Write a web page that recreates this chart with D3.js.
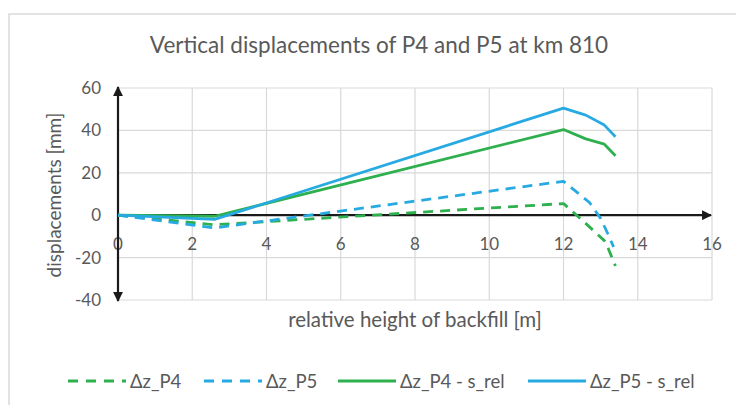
<!DOCTYPE html>
<html>
<head>
<meta charset="utf-8">
<script src="https://cdn.jsdelivr.net/npm/d3@7"></script>
<style>
  body { margin: 0; background: #fff; }
  text { font-family: Lato, "Open Sans", sans-serif; fill: #595959; }
</style>
</head>
<body>
<svg id="chart" width="736" height="405"></svg>
<script>
// series
var xP4 = [0, 2.6, 12, 12.7, 13.1, 13.2, 13.4];
var dzP4 = [0, -4.5, 5.5, -5.5, -12, -15.5, -24];
var xP5 = [0, 2.6, 12, 12.7, 13.0, 13.2, 13.35];
var dzP5 = [0, -6, 16, 6, -1.5, -9, -15];
var xRel = [0, 2.6, 12, 12.6, 13.1, 13.4];
var p4Rel = [0, -0.5, 40.4, 36, 33.5, 28];
var p5Rel = [0, -2, 50.5, 47.2, 42.5, 37];
var xTicks = [0, 2, 4, 6, 8, 10, 12, 14, 16];
var yTicks = [-40, -20, 0, 20, 40, 60];

var green = "#2eb04e", blue = "#27aae1";

var svg = d3.select("#chart");

// outer frame
svg.append("path")
  .attr("d", "M9,405 L9,14 L736,14")
  .attr("fill", "none").attr("stroke", "#d9d9d9").attr("stroke-width", 1.5);

var x = d3.scaleLinear().domain([0, 16]).range([118, 712]);
var y = d3.scaleLinear().domain([-40, 60]).range([300, 88]);

// grid
svg.append("g").selectAll("line").data(xTicks).enter().append("line")
  .attr("x1", function(d) { return x(d); }).attr("x2", function(d) { return x(d); })
  .attr("y1", y(60)).attr("y2", y(-40))
  .attr("stroke", "#d9d9d9").attr("stroke-width", 1.2);
svg.append("g").selectAll("line").data(yTicks).enter().append("line")
  .attr("x1", x(0)).attr("x2", x(16))
  .attr("y1", function(d) { return y(d); }).attr("y2", function(d) { return y(d); })
  .attr("stroke", "#d9d9d9").attr("stroke-width", 1.2);

// tick labels
svg.append("g").selectAll("text").data(yTicks).enter().append("text")
  .attr("x", 101).attr("y", function(d) { return y(d) + 6; })
  .attr("text-anchor", "end").attr("font-size", 17)
  .text(function(d) { return d; });
svg.append("g").selectAll("text").data(xTicks).enter().append("text")
  .attr("x", function(d) { return x(d); }).attr("y", y(0) + 35)
  .attr("text-anchor", "middle").attr("font-size", 17)
  .text(function(d) { return d; });

// arrow axes
var defs = svg.append("defs");
defs.append("marker").attr("id", "arr")
  .attr("viewBox", "0 0 10 10").attr("refX", 9).attr("refY", 5)
  .attr("markerWidth", 9).attr("markerHeight", 4.5)
  .attr("markerUnits", "strokeWidth").attr("orient", "auto-start-reverse")
  .append("path").attr("d", "M0,0 L10,5 L0,10 z").attr("fill", "#1a1a1a");

svg.append("line")
  .attr("x1", x(0)).attr("x2", x(16) - 1)
  .attr("y1", y(0)).attr("y2", y(0))
  .attr("stroke", "#1a1a1a").attr("stroke-width", 2.2)
  .attr("marker-end", "url(#arr)");
svg.append("line")
  .attr("x1", x(0)).attr("x2", x(0))
  .attr("y1", y(-40) + 1).attr("y2", y(60) - 1)
  .attr("stroke", "#1a1a1a").attr("stroke-width", 2.2)
  .attr("marker-start", "url(#arr)").attr("marker-end", "url(#arr)");

// data lines
var line = d3.line()
  .x(function(d) { return x(d[0]); })
  .y(function(d) { return y(d[1]); });

var series = [
  { xs: xP4, ys: dzP4, color: green, dash: "10,7" },
  { xs: xP5, ys: dzP5, color: blue, dash: "10,7" },
  { xs: xRel, ys: p4Rel, color: green, dash: null },
  { xs: xRel, ys: p5Rel, color: blue, dash: null }
];

series.forEach(function(s) {
  svg.append("path")
    .datum(d3.zip(s.xs, s.ys))
    .attr("d", line)
    .attr("fill", "none")
    .attr("stroke", s.color)
    .attr("stroke-width", 2.8)
    .attr("stroke-linejoin", "round")
    .attr("stroke-dasharray", s.dash);
});

// titles
svg.append("text")
  .attr("x", 379).attr("y", 53)
  .attr("text-anchor", "middle").attr("font-size", 22.5)
  .text("Vertical displacements of P4 and P5 at km 810");
svg.append("text")
  .attr("transform", "translate(61,195) rotate(-90)")
  .attr("text-anchor", "middle").attr("font-size", 19)
  .text("displacements [mm]");
svg.append("text")
  .attr("x", 415).attr("y", 327)
  .attr("text-anchor", "middle").attr("font-size", 20.5)
  .text("relative height of backfill [m]");

// legend
var legendNames = ["Δz_P4", "Δz_P5", "Δz_P4 - s_rel", "Δz_P5 - s_rel"];
var legendX = [68, 204, 338, 528];
var lg = svg.append("g").selectAll("g").data(legendNames).enter().append("g")
  .attr("transform", function(d, i) { return "translate(" + legendX[i] + ",381)"; });
lg.append("line")
  .attr("x1", 0).attr("x2", 58).attr("y1", 0).attr("y2", 0)
  .attr("stroke", function(d, i) { return series[i].color; })
  .attr("stroke-width", 2.8)
  .attr("stroke-dasharray", function(d, i) { return series[i].dash ? "10,8" : null; });
lg.append("text")
  .attr("x", 62).attr("y", 6.5).attr("font-size", 18.5)
  .text(function(d) { return d; });
</script>
</body>
</html>
